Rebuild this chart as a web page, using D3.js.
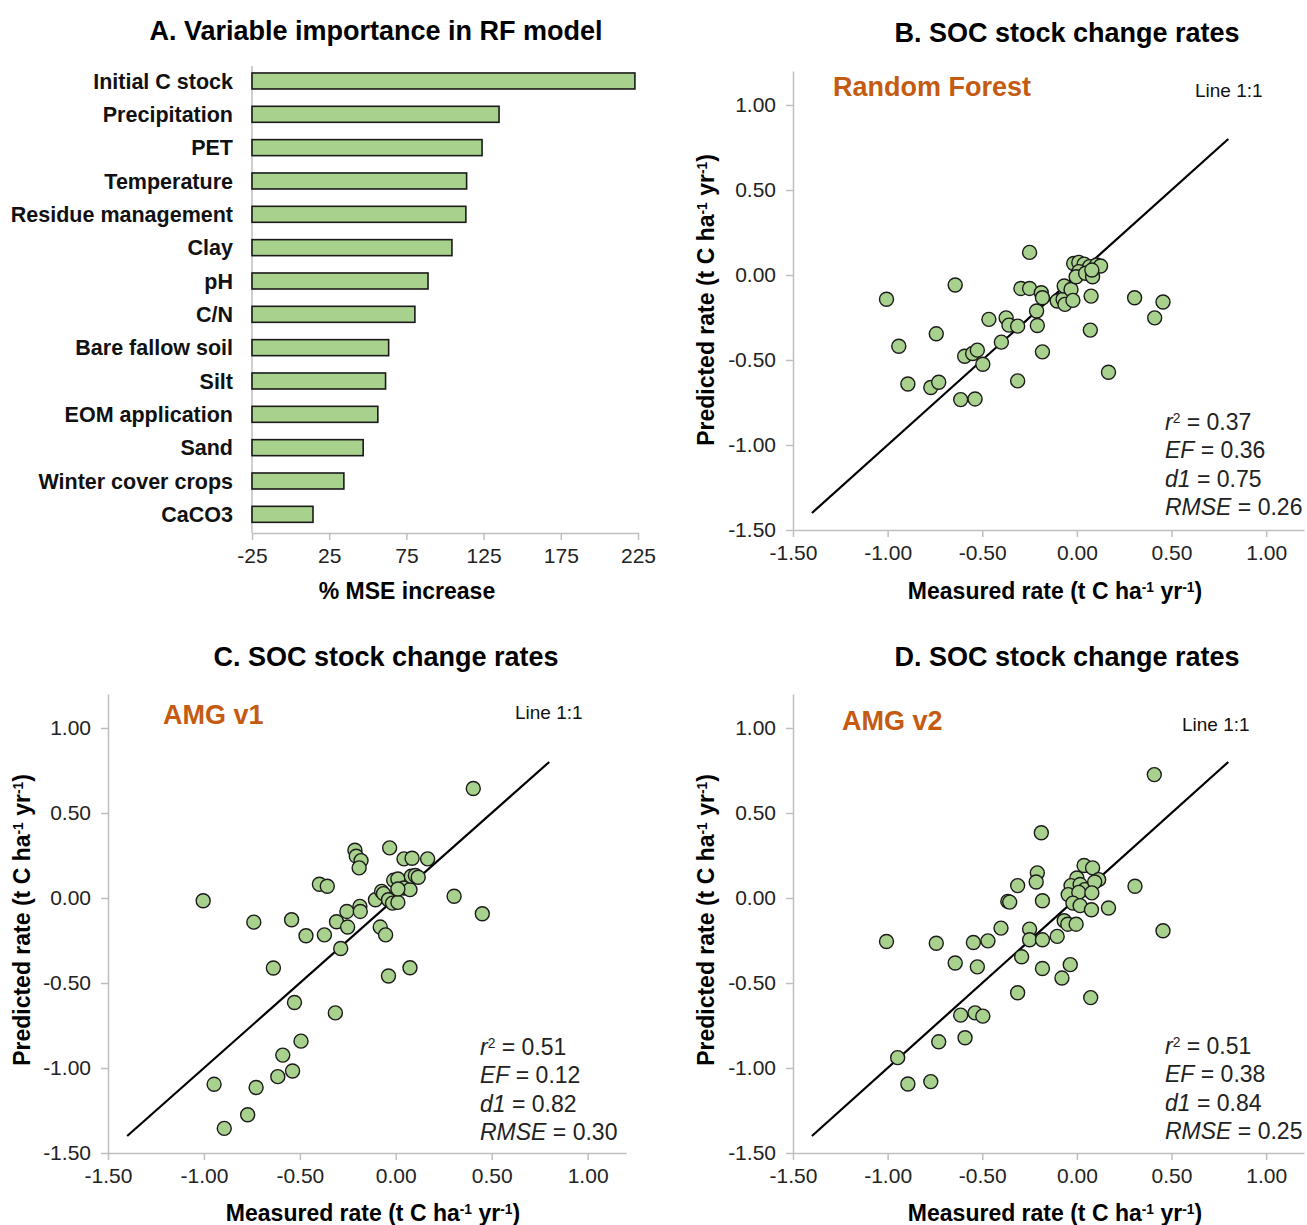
<!DOCTYPE html>
<html>
<head>
<meta charset="utf-8">
<script src="https://cdn.jsdelivr.net/npm/d3@7"></script>
<style>
  body { margin: 0; background: #fff; }
  svg { display: block; font-family: "Liberation Sans", Arial, sans-serif; }
</style>
</head>
<body>
<svg id="chart" width="1307" height="1225"></svg>
<script>
// Panel A data
const variables = ["Initial C stock", "Precipitation", "PET", "Temperature", "Residue management",
  "Clay", "pH", "C/N", "Bare fallow soil", "Silt", "EOM application", "Sand", "Winter cover crops", "CaCO3"];
const mseIncrease = [223, 135, 124, 114, 113.5, 104.5, 89, 80.5, 63.5, 61.5, 56.5, 47, 34.5, 14.5];
const mseTicks = [-25, 25, 75, 125, 175, 225];

// Panel B: Random Forest
const rfMeasured = [-1.006, -0.643, -0.941, -0.743, -0.465, -0.374, -0.359, -0.313, -0.296, -0.250,
  -0.213, -0.209, -0.188, -0.182, -0.182, -0.399, -0.593, -0.551, -0.526, -0.497,
  -0.893, -0.772, -0.730, -0.614, -0.538, -0.313, -0.104, -0.073, -0.067, -0.063,
  -0.031, -0.021, 0.075, 0.071, 0.305, 0.411, 0.455, 0.167, -0.017, 0.010,
  0.038, 0.067, 0.104, 0.125, 0.010, -0.004, 0.046, 0.083, 0.079, -0.250];
const rfPredicted = [-0.143, -0.059, -0.419, -0.346, -0.261, -0.252, -0.295, -0.301, -0.079, -0.079,
  -0.212, -0.297, -0.104, -0.134, -0.452, -0.395, -0.478, -0.462, -0.442, -0.525,
  -0.641, -0.662, -0.631, -0.733, -0.729, -0.623, -0.153, -0.143, -0.065, -0.173,
  -0.085, -0.149, -0.124, -0.324, -0.134, -0.252, -0.159, -0.572, 0.068, 0.074,
  0.064, 0.049, 0.059, 0.053, 0.020, -0.010, 0.010, -0.010, 0.029, 0.133];

// Panel C: AMG v1
const v1Measured = [-1.004, 0.404, -0.740, -0.543, -0.468, -0.372, -0.398, -0.357, -0.309, -0.255,
  -0.251, -0.287, -0.213, -0.206, -0.181, -0.191, -0.187, -0.185, -0.106, -0.081,
  -0.053, -0.074, -0.064, -0.038, -0.017, 0.011, -0.032, 0.043, 0.085, 0.166,
  -0.011, 0.011, 0.043, 0.074, 0.081, 0.102, 0.117, 0.011, 0.304, 0.451,
  -0.638, 0.074, -0.038, -0.528, -0.315, -0.494, -0.589, -0.538, -0.615, -0.947,
  -0.728, -0.772, -0.894];
const v1Predicted = [-0.016, 0.644, -0.142, -0.128, -0.222, -0.217, 0.081, 0.069, -0.140, -0.079,
  -0.171, -0.297, 0.281, 0.246, 0.220, 0.177, -0.049, -0.079, -0.010, -0.171,
  -0.217, 0.039, 0.026, -0.010, -0.030, -0.026, 0.295, 0.230, 0.234, 0.230,
  0.104, 0.112, 0.059, 0.049, 0.128, 0.132, 0.122, 0.053, 0.010, -0.093,
  -0.412, -0.410, -0.459, -0.615, -0.676, -0.842, -0.924, -1.018, -1.051, -1.096,
  -1.115, -1.275, -1.355];

// Panel D: AMG v2
const v2Measured = [0.409, -0.188, -0.209, -0.215, -0.313, -0.365, -0.355, -0.182, 0.038, 0.083,
  0.000, -0.031, 0.017, 0.042, 0.115, 0.094, -0.046, 0.010, 0.079, -0.021,
  0.017, 0.077, 0.167, 0.307, 0.455, -1.006, -0.743, -0.547, -0.470, -0.401,
  -0.250, -0.250, -0.182, -0.104, -0.067, -0.048, -0.004, -0.292, -0.643, -0.526,
  -0.182, -0.035, -0.079, -0.313, 0.073, -0.614, -0.538, -0.497, -0.730, -0.591,
  -0.947, -0.893, -0.772];
const v2Predicted = [0.726, 0.384, 0.148, 0.094, 0.073, -0.020, -0.024, -0.016, 0.191, 0.177,
  0.118, 0.073, 0.079, 0.049, 0.108, 0.094, 0.020, 0.033, 0.030, -0.030,
  -0.045, -0.069, -0.059, 0.069, -0.193, -0.256, -0.266, -0.262, -0.252, -0.177,
  -0.183, -0.246, -0.246, -0.226, -0.134, -0.154, -0.154, -0.346, -0.382, -0.405,
  -0.415, -0.392, -0.471, -0.557, -0.586, -0.689, -0.676, -0.695, -0.846, -0.822,
  -0.939, -1.094, -1.080];

const rateTicks = [-1.5, -1.0, -0.5, 0.0, 0.5, 1.0];
const oneToOne = [-1.4, 0.8];

const svg = d3.select("#chart");
svg.append("rect").attr("width", 1307).attr("height", 1225).attr("fill", "#fff");

const axisGrey = "#bfbfbf";
const green = "#a9d18e";
const orange = "#c55a11";
const fmt2 = d => d3.format(".2f")(d).replace("\u2212", "-");

// ---------- Panel A ----------
const xA = d3.scaleLinear().domain([-25, 225]).range([252, 638]);
const yA = d3.scaleBand().domain(variables).range([64.3, 531]).paddingInner(0.52).paddingOuter(0.26);

const gA = svg.append("g");
gA.append("text").attr("x", 376).attr("y", 40).attr("text-anchor", "middle")
  .attr("font-size", 27).attr("font-weight", "bold").text("A. Variable importance in RF model");

gA.append("line").attr("x1", xA(-25)).attr("x2", xA(-25)).attr("y1", 66).attr("y2", 533)
  .attr("stroke", axisGrey).attr("stroke-width", 1.5);

const axA = gA.append("g").attr("transform", "translate(0,533)")
  .call(d3.axisBottom(xA).tickValues(mseTicks).tickFormat(d => String(d)).tickSize(7).tickSizeOuter(0).tickPadding(8));
axA.select(".domain").attr("stroke", axisGrey).attr("stroke-width", 1.5);
axA.selectAll(".tick line").attr("stroke", axisGrey).attr("stroke-width", 1.5);
axA.selectAll(".tick text").attr("font-size", 21).attr("font-family", "Liberation Sans, Arial").attr("fill", "#222");

gA.selectAll("rect.bar").data(variables).enter().append("rect").attr("class", "bar")
  .attr("x", xA(-25))
  .attr("y", d => yA(d))
  .attr("width", (d, i) => xA(mseIncrease[i]) - xA(-25))
  .attr("height", yA.bandwidth())
  .attr("fill", green).attr("stroke", "#1a1a1a").attr("stroke-width", 1.6);

gA.selectAll("text.cat").data(variables).enter().append("text").attr("class", "cat")
  .attr("x", 233).attr("y", d => yA(d) + yA.bandwidth() / 2).attr("dy", "0.36em")
  .attr("text-anchor", "end").attr("font-size", 21.5).attr("font-weight", "bold").attr("fill", "#111")
  .text(d => d);

gA.append("text").attr("x", 407).attr("y", 599).attr("text-anchor", "middle")
  .attr("font-size", 23).attr("font-weight", "bold").text("% MSE increase");

// ---------- Scatter panels ----------
function unitText(sel, prefix) {
  sel.append("tspan").text(prefix + " (t C ha");
  sel.append("tspan").attr("font-size", "60%").attr("baseline-shift", "super").text("-1");
  sel.append("tspan").text(" yr");
  sel.append("tspan").attr("font-size", "60%").attr("baseline-shift", "super").text("-1");
  sel.append("tspan").text(")");
}

function scatterPanel(o) {
  const x = d3.scaleLinear().domain([-1.5, 1.2]).range([o.x0, o.x1]);
  const y = d3.scaleLinear().domain([-1.5, 1.2]).range([o.y0, o.y1]);
  const g = svg.append("g");

  g.append("text").attr("x", o.titleX).attr("y", o.titleY).attr("text-anchor", "middle")
    .attr("font-size", 27).attr("font-weight", "bold").text(o.title);

  const ax = g.append("g").attr("transform", `translate(0,${o.y0})`)
    .call(d3.axisBottom(x).tickValues(rateTicks).tickFormat(fmt2).tickSize(7).tickSizeOuter(0).tickPadding(8));
  const ay = g.append("g").attr("transform", `translate(${o.x0},0)`)
    .call(d3.axisLeft(y).tickValues(rateTicks).tickFormat(fmt2).tickSize(7).tickSizeOuter(0).tickPadding(10));
  [ax, ay].forEach(a => {
    a.select(".domain").attr("stroke", axisGrey).attr("stroke-width", 1.5);
    a.selectAll(".tick line").attr("stroke", axisGrey).attr("stroke-width", 1.5);
    a.selectAll(".tick text").attr("font-size", 21).attr("font-family", "Liberation Sans, Arial").attr("fill", "#222");
  });

  // 1:1 line
  g.append("line")
    .attr("x1", x(oneToOne[0])).attr("y1", y(oneToOne[0]))
    .attr("x2", x(oneToOne[1])).attr("y2", y(oneToOne[1]))
    .attr("stroke", "#000").attr("stroke-width", 2.2);

  g.selectAll("circle").data(o.mx).enter().append("circle")
    .attr("cx", d => x(d)).attr("cy", (d, i) => y(o.my[i])).attr("r", 7)
    .attr("fill", green).attr("stroke", "#1a1a1a").attr("stroke-width", 1.4);

  g.append("text").attr("x", o.nameX).attr("y", o.nameY).attr("dy", "0.36em")
    .attr("font-size", 27).attr("font-weight", "bold").attr("fill", orange).text(o.name);
  g.append("text").attr("x", o.lineX).attr("y", o.lineY).attr("dy", "0.36em")
    .attr("font-size", 19).attr("fill", "#111").text("Line 1:1");

  const st = g.append("g").attr("font-size", 23).attr("fill", "#222");
  const r2 = st.append("text").attr("x", o.statX).attr("y", o.statY[0]).attr("dy", "0.36em");
  r2.append("tspan").attr("font-style", "italic").text("r");
  r2.append("tspan").attr("font-size", "60%").attr("baseline-shift", "super").text("2");
  r2.append("tspan").text(" = " + o.stats[0]);
  ["EF", "d1", "RMSE"].forEach((lab, k) => {
    const t = st.append("text").attr("x", o.statX).attr("y", o.statY[k + 1]).attr("dy", "0.36em");
    t.append("tspan").attr("font-style", "italic").text(lab);
    t.append("tspan").text(" = " + o.stats[k + 1]);
  });

  const xl = g.append("text").attr("x", o.xlabX).attr("y", o.xlabY).attr("text-anchor", "middle")
    .attr("font-size", 23).attr("font-weight", "bold");
  unitText(xl, "Measured rate");
  const yl = g.append("text").attr("transform", `translate(${o.ylabX},${o.ylabY}) rotate(-90)`)
    .attr("text-anchor", "middle").attr("font-size", 23).attr("font-weight", "bold");
  unitText(yl, "Predicted rate");
}

scatterPanel({
  title: "B. SOC stock change rates", titleX: 1067, titleY: 42,
  x0: 793, x1: 1304, y0: 530, y1: 71, mx: rfMeasured, my: rfPredicted,
  name: "Random Forest", nameX: 833, nameY: 86, lineX: 1195, lineY: 90,
  stats: ["0.37", "0.36", "0.75", "0.26"], statX: 1165, statY: [422, 450, 479, 507],
  xlabX: 1055, xlabY: 599, ylabX: 714, ylabY: 300
});
scatterPanel({
  title: "C. SOC stock change rates", titleX: 386, titleY: 666,
  x0: 108, x1: 626, y0: 1153, y1: 694, mx: v1Measured, my: v1Predicted,
  name: "AMG v1", nameX: 163, nameY: 714, lineX: 515, lineY: 712,
  stats: ["0.51", "0.12", "0.82", "0.30"], statX: 480, statY: [1047, 1075, 1104, 1132],
  xlabX: 373, xlabY: 1221, ylabX: 30, ylabY: 920
});
scatterPanel({
  title: "D. SOC stock change rates", titleX: 1067, titleY: 666,
  x0: 793, x1: 1304, y0: 1153, y1: 694, mx: v2Measured, my: v2Predicted,
  name: "AMG v2", nameX: 842, nameY: 720, lineX: 1182, lineY: 724,
  stats: ["0.51", "0.38", "0.84", "0.25"], statX: 1165, statY: [1046, 1074, 1103, 1131],
  xlabX: 1055, xlabY: 1221, ylabX: 714, ylabY: 920
});
</script>
</body>
</html>
